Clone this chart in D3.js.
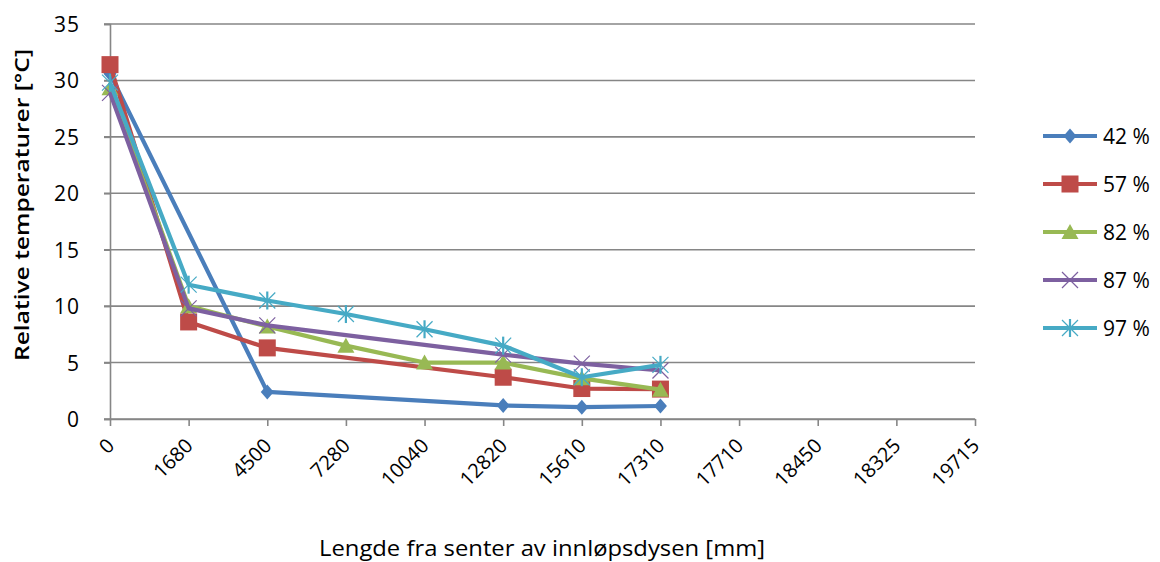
<!DOCTYPE html>
<html>
<head>
<meta charset="utf-8">
<script src="https://cdn.jsdelivr.net/npm/d3@7"></script>
<style>
  body { margin: 0; background: #fff; }
  svg { display: block; }
  text { font-family: "Open Sans", "Noto Sans", sans-serif; fill: #000; }
</style>
</head>
<body>
<svg width="1160" height="562"></svg>
<script>
// category axis (Excel style: labels are just text, evenly spaced)
const categories = ['0', '1680', '4500', '7280', '10040', '12820', '15610', '17310', '17710', '18450', '18325', '19715'];
const yTicks = [0, 5, 10, 15, 20, 25, 30, 35];

// series values, null = no measurement (line is drawn across the gap)
const s42 = [30.6, null, 2.4, null, null, 1.2, 1.05, 1.15];
const s57 = [31.4, 8.6, 6.3, null, null, 3.7, 2.7, 2.65];
const s82 = [29.3, 10.0, 8.2, 6.5, 5.0, 5.0, 3.6, 2.6];
const s87 = [28.9, 9.8, 8.3, null, null, 5.7, 4.9, 4.3];
const s97 = [29.8, 11.9, 10.5, 9.3, 7.95, 6.5, 3.7, 4.8];

const seriesNames = ['42 %', '57 %', '82 %', '87 %', '97 %'];
const seriesColors = ['#4a7ebb', '#be4b48', '#98b954', '#7d60a0', '#46aac5'];
const seriesMarkers = ['diamond', 'square', 'triangle', 'x', 'star'];
const seriesValues = [s42, s57, s82, s87, s97];

const svg = d3.select('svg');
const gridColor = '#868686';

const x = d3.scalePoint().domain(categories).range([110, 975]);
const y = d3.scaleLinear().domain([0, 35]).range([419, 24]);

// gridlines
svg.append('g')
  .selectAll('line')
  .data(yTicks)
  .join('line')
  .attr('x1', 104)
  .attr('x2', 975)
  .attr('y1', (d) => y(d))
  .attr('y2', (d) => y(d))
  .attr('stroke', gridColor)
  .attr('stroke-width', 1.6);

// y axis
const yAxis = svg.append('g')
  .attr('transform', 'translate(110,0)')
  .call(d3.axisLeft(y).tickValues(yTicks).tickSize(6).tickPadding(24));
yAxis.select('.domain').attr('stroke', gridColor).attr('stroke-width', 1.6);
yAxis.selectAll('.tick line').attr('stroke', gridColor).attr('stroke-width', 1.6);
yAxis.selectAll('.tick text')
  .attr('font-size', 21)
  .attr('letter-spacing', 1)
  .attr('fill', '#000')
  .attr('dy', '0.36em');

// x axis
const xAxis = svg.append('g')
  .attr('transform', 'translate(0,419)')
  .call(d3.axisBottom(x).tickSize(7).tickSizeOuter(0));
xAxis.select('.domain').attr('stroke', gridColor).attr('stroke-width', 1.6);
xAxis.selectAll('.tick line').attr('stroke', gridColor).attr('stroke-width', 1.6);
xAxis.selectAll('.tick text')
  .attr('font-size', 20)
  .attr('fill', '#000')
  .attr('text-anchor', 'end')
  .attr('y', 0)
  .attr('dy', 0)
  .attr('transform', 'translate(5,28) rotate(-45)');

// axis titles
svg.append('text')
  .attr('transform', 'translate(29,205) rotate(-90)')
  .attr('text-anchor', 'middle')
  .attr('font-size', 20)
  .attr('font-weight', 600)
  .attr('textLength', 312)
  .attr('lengthAdjust', 'spacingAndGlyphs')
  .text('Relative temperaturer [°C]');

svg.append('text')
  .attr('x', 542)
  .attr('y', 556)
  .attr('text-anchor', 'middle')
  .attr('font-size', 21)
  .attr('textLength', 446)
  .attr('lengthAdjust', 'spacingAndGlyphs')
  .text('Lengde fra senter av innløpsdysen [mm]');

// marker drawing
function drawMarker(g, type, color) {
  if (type === 'diamond') {
    g.append('path').attr('d', 'M0,-7.5L6.5,0L0,7.5L-6.5,0Z').attr('fill', color);
  } else if (type === 'square') {
    g.append('rect').attr('x', -8.5).attr('y', -8.5).attr('width', 17).attr('height', 17).attr('fill', color);
  } else if (type === 'triangle') {
    g.append('path').attr('d', 'M0,-8L8.5,7L-8.5,7Z').attr('fill', color);
  } else if (type === 'x') {
    g.append('path').attr('d', 'M-8,-8L8,8M-8,8L8,-8').attr('stroke', color).attr('stroke-width', 1.2).attr('fill', 'none');
  } else if (type === 'star') {
    g.append('path').attr('d', 'M-8,-8L8,8M-8,8L8,-8').attr('stroke', color).attr('stroke-width', 1.2).attr('fill', 'none');
    g.append('path').attr('d', 'M0,-9L0,9').attr('stroke', color).attr('stroke-width', 2.2).attr('fill', 'none');
  }
}

const line = d3.line()
  .x((d) => x(d.cat))
  .y((d) => y(d.v));

seriesValues.forEach((vals, i) => {
  const pts = vals
    .map((v, j) => ({ cat: categories[j], v: v }))
    .filter((d) => d.v !== null);
  const color = seriesColors[i];
  const g = svg.append('g');
  g.append('path')
    .datum(pts)
    .attr('d', line)
    .attr('fill', 'none')
    .attr('stroke', color)
    .attr('stroke-width', 4.2)
    .attr('stroke-linejoin', 'round');
  g.selectAll('g.m')
    .data(pts)
    .join('g')
    .attr('class', 'm')
    .attr('transform', (d) => `translate(${x(d.cat)},${y(d.v)})`)
    .each(function () { drawMarker(d3.select(this), seriesMarkers[i], color); });
});

// legend
const legendY = d3.scalePoint().domain(seriesNames).range([136, 328]);
const legend = svg.append('g');
seriesNames.forEach((name, i) => {
  const ly = legendY(name);
  const item = legend.append('g');
  item.append('line')
    .attr('x1', 1043).attr('x2', 1097)
    .attr('y1', ly).attr('y2', ly)
    .attr('stroke', seriesColors[i])
    .attr('stroke-width', 4.2);
  const m = item.append('g').attr('transform', `translate(1070,${ly})`);
  drawMarker(m, seriesMarkers[i], seriesColors[i]);
  item.append('text')
    .attr('x', 1103)
    .attr('y', ly)
    .attr('dy', '0.36em')
    .attr('font-size', 21)
    .text(name);
});
</script>
</body>
</html>
